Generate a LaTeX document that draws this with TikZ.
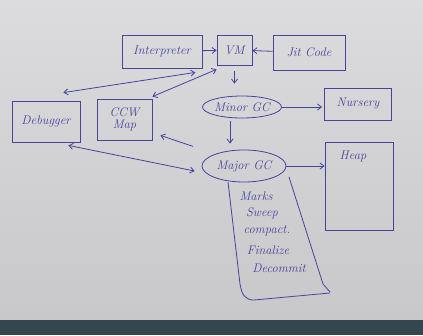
\documentclass[tikz,border=0pt]{standalone}
\usetikzlibrary{shapes.geometric,arrows.meta}
\definecolor{board}{HTML}{DCDBDE}
\definecolor{boardlow}{HTML}{C8C7CA}
\definecolor{pen}{HTML}{45459A}
\definecolor{strip}{HTML}{34474F}
\tikzset{
  hand/.style={font=\itshape\fontsize{12.5}{13}\selectfont},
  box/.style={draw=pen, line width=0.8pt, text=pen, hand, inner sep=1pt},
  oval/.style={ellipse, draw=pen, line width=0.8pt, text=pen, hand, inner sep=0pt},
  lbl/.style={text=pen, hand, inner sep=0pt},
  arr/.style={draw=pen, line width=0.8pt, -{Straight Barb[length=4pt,width=6pt]}},
  darr/.style={draw=pen, line width=0.8pt, {Straight Barb[length=4pt,width=6pt]}-{Straight Barb[length=4pt,width=6pt]}},
  sheet/.style={draw=pen, line width=0.8pt}
}
\begin{document}
\begin{tikzpicture}[x=1pt,y=-1pt]
\useasboundingbox (0,0) rectangle (423,335);
\shade[top color=board, bottom color=boardlow] (0,0) rectangle (423,320);
\fill[strip] (0,320) rectangle (423,335);

% nodes
\node[box, minimum width=80pt, minimum height=33pt] (interp) at (162,51.5) {Interpreter};
\node[box, minimum width=35pt, minimum height=30pt] (vm) at (234.5,50) {VM};
\node[box, minimum width=72pt, minimum height=35pt] (jit) at (309,52.5) {Jit Code};
\node[oval, minimum width=79pt, minimum height=22pt] (minor) at (242,107) {Minor GC};
\node[box, minimum width=67pt, minimum height=32pt] (nursery) at (358,104) {Nursery};
\node[box, minimum width=68pt, minimum height=41pt] (debugger) at (46,121.5) {Debugger};
\node[box, minimum width=55pt, minimum height=41pt, align=center] (ccw) at (124.5,119.5) {CCW\\[-1pt]Map};
\node[oval, minimum width=84pt, minimum height=32pt] (major) at (244,166) {Major GC};
\node[box, minimum width=68pt, minimum height=88pt] (heap) at (359,186) {};
\node[lbl] (heaplbl) at (353,156) {Heap};

% sheet hanging below Major GC
\draw[sheet] (228,182) -- (240,284) .. controls (242,296) and (246,300) .. (254,300) -- (330,293);
\draw[sheet] (289,177) -- (323,284) -- (330,292);
\node[lbl] (m1) at (256,196) {Marks};
\node[lbl] (m2) at (262,213) {Sweep};
\node[lbl] (m3) at (267,231) {compact.};
\node[lbl] (m4) at (268,250) {Finalize};
\node[lbl] (m5) at (279,268) {Decommit};

% connectors
\draw[arr] (interp) -- (vm);
\draw[arr] (jit) -- (vm);
\draw[arr, shorten <=6pt, shorten >=12pt] (vm.south) -- (vm.south |- minor.north);
\draw[arr, shorten >=2pt] (minor) -- (nursery.west |- minor.east);
\draw[arr, shorten <=3pt, shorten >=6pt] ([xshift=-12pt]minor.south) -- ([xshift=-12pt]minor.south |- major.north);
\draw[arr] (major.east) -- (heap.west |- major.east);
\draw[darr] ([xshift=-17pt,yshift=8pt]debugger.north east) -- ([xshift=-7pt,yshift=-4pt]interp.south east);
\draw[darr] ([yshift=2pt]ccw.north east) -- ([yshift=-4pt]vm.south west);
\draw[arr] ([xshift=-21pt,yshift=8pt]major.north west) -- ([xshift=8pt,yshift=5pt]ccw.south east);
\draw[darr] ([xshift=-12pt,yshift=-3pt]debugger.south east) -- ([xshift=-7pt,yshift=-5pt]major.west);
\end{tikzpicture}
\end{document}
